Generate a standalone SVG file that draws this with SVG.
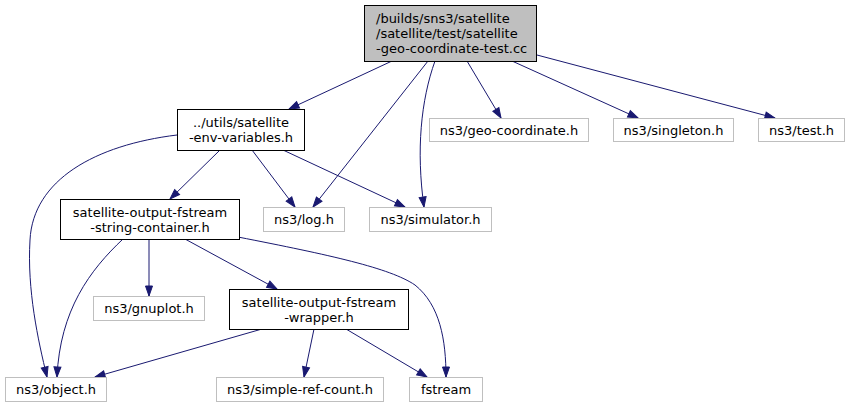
<svg xmlns="http://www.w3.org/2000/svg" width="850" height="409" viewBox="0 0 850 409">
<style>
.n rect{fill:#fff;stroke:#000;stroke-width:1}
.n.root rect{fill:#bfbfbf}
.n.ext rect{stroke:#bfbfbf}
.n text{font-family:"DejaVu Sans",sans-serif;font-size:13px;fill:#000;text-anchor:middle}
.n.root text{text-anchor:start}
.e path{fill:none;stroke:#191970;stroke-width:1;marker-end:url(#ah)}
</style>
<defs>
<marker id="ah" markerUnits="userSpaceOnUse" markerWidth="12" markerHeight="10" refX="10" refY="0" orient="auto" overflow="visible">
<path d="M0,-3.5 L10,0 L0,3.5 Z" fill="#191970" stroke="#191970" stroke-width="1"/>
</marker>
</defs>
<rect width="850" height="409" fill="#fff"/>
<g class="e" id="edges">
<path d="M392,61 L289,109"/>
<path d="M428,61 L313,207"/>
<path d="M435,61 C421,100 416,150 424,207"/>
<path d="M467,61 L501,118"/>
<path d="M512,61 L638,118"/>
<path d="M537,55 L775,118"/>
<path d="M177,135 C95,145 33,180 30,240 C27,290 38,340 47,377"/>
<path d="M220,150 L170,199"/>
<path d="M252,150 L295,207"/>
<path d="M283,150 L405,207"/>
<path d="M123,239 C90,270 60,310 57,377"/>
<path d="M149,239 L149,296"/>
<path d="M185,239 L277,289"/>
<path d="M238,237 C330,255 390,268 415,285 C440,305 446,340 446,377"/>
<path d="M262,329 L95,377"/>
<path d="M314,329 L304,377"/>
<path d="M346,329 L427,377"/>
</g>
<g class="n root" id="root"><rect x="364.5" y="5.5" width="172" height="56"/><text x="376" y="22.5">/builds/sns3/satellite</text><text x="376" y="37.5">/satellite/test/satellite</text><text x="376" y="52.5">-geo-coordinate-test.cc</text></g>
<g class="n" id="env"><rect x="177.5" y="109.5" width="127" height="41"/><text x="241" y="126.5">../utils/satellite</text><text x="241" y="141.5">-env-variables.h</text></g>
<g class="n ext" id="geo"><rect x="429.5" y="118.5" width="159" height="23"/><text x="509" y="134.5">ns3/geo-coordinate.h</text></g>
<g class="n ext" id="singleton"><rect x="613.5" y="118.5" width="120" height="23"/><text x="673.5" y="134.5">ns3/singleton.h</text></g>
<g class="n ext" id="test"><rect x="758.5" y="118.5" width="86" height="23"/><text x="801.5" y="134.5">ns3/test.h</text></g>
<g class="n ext" id="log"><rect x="263.5" y="207.5" width="81" height="24"/><text x="304" y="223.5">ns3/log.h</text></g>
<g class="n ext" id="simulator"><rect x="369.5" y="207.5" width="122" height="24"/><text x="430.5" y="223.5">ns3/simulator.h</text></g>
<g class="n" id="sc"><rect x="60.5" y="199.5" width="179" height="40"/><text x="150" y="216.5">satellite-output-fstream</text><text x="150" y="231.5">-string-container.h</text></g>
<g class="n ext" id="gnuplot"><rect x="93.5" y="296.5" width="111" height="24"/><text x="149" y="312.5">ns3/gnuplot.h</text></g>
<g class="n" id="wrapper"><rect x="229.5" y="289.5" width="179" height="40"/><text x="319" y="306.5">satellite-output-fstream</text><text x="319" y="321.5">-wrapper.h</text></g>
<g class="n ext" id="object"><rect x="5.5" y="377.5" width="101" height="24"/><text x="56" y="393.5">ns3/object.h</text></g>
<g class="n ext" id="srefcount"><rect x="216.5" y="377.5" width="167" height="24"/><text x="300" y="393.5">ns3/simple-ref-count.h</text></g>
<g class="n ext" id="fstream"><rect x="409.5" y="377.5" width="73" height="24"/><text x="446" y="393.5">fstream</text></g>
</svg>
